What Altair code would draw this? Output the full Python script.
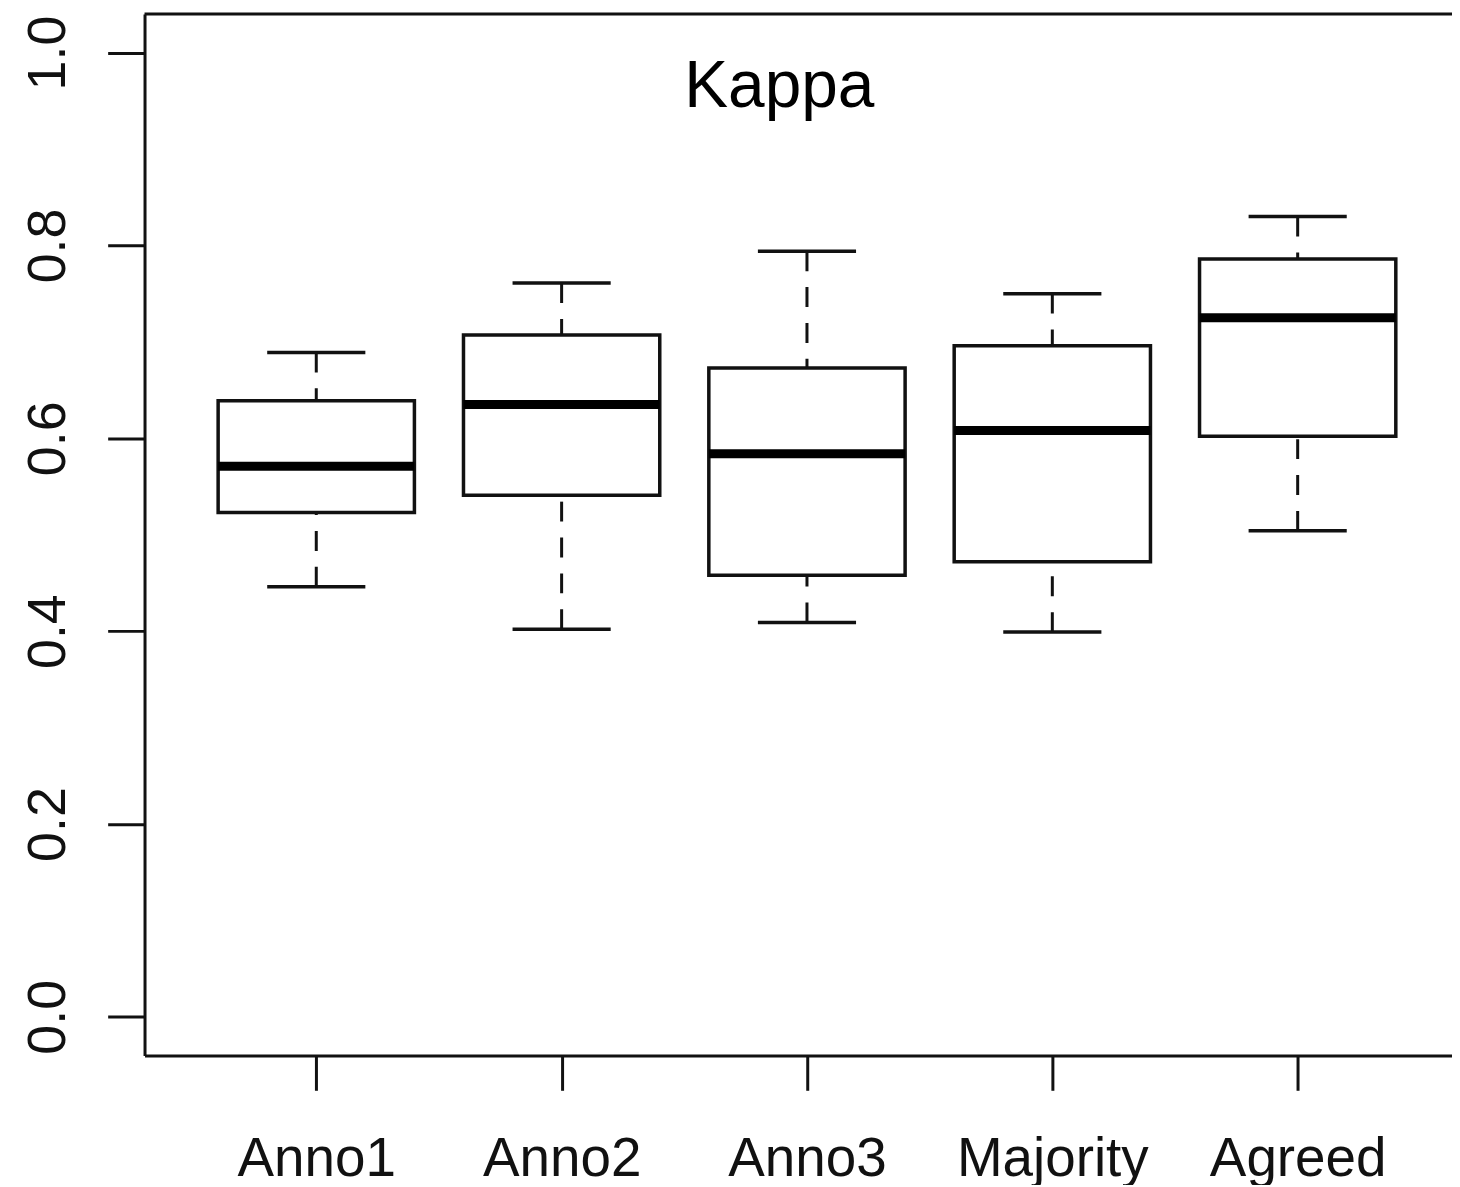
import altair as alt
import pandas as pd

# Data
categories = ["Anno1", "Anno2", "Anno3", "Majority", "Agreed"]
lower_whisker = [0.446, 0.402, 0.409, 0.399, 0.504]
q1 = [0.523, 0.541, 0.458, 0.472, 0.602]
median = [0.571, 0.635, 0.584, 0.608, 0.725]
q3 = [0.639, 0.707, 0.673, 0.696, 0.786]
upper_whisker = [0.689, 0.761, 0.794, 0.750, 0.830]
y_ticks = [0.0, 0.2, 0.4, 0.6, 0.8, 1.0]
title_text = "Kappa"

pos = list(range(1, len(categories) + 1))
df = pd.DataFrame({
    "cat": categories,
    "pos": pos,
    "lo": lower_whisker,
    "q1": q1,
    "med": median,
    "q3": q3,
    "hi": upper_whisker,
})
df["bl"] = df["pos"] - 0.4
df["br"] = df["pos"] + 0.4
df["cl"] = df["pos"] - 0.2
df["cr"] = df["pos"] + 0.2

W = 1312
H = 1045
PX_PER_UNIT = 246.2
x_domain = [0.3, 0.3 + W / PX_PER_UNIT]
y_domain = [-0.04, 1.04]

FONT = "Liberation Sans"
INK = "#111111"

label_list = "[" + ",".join("'" + c + "'" for c in categories) + "]"

xscale = alt.Scale(domain=x_domain, nice=False, zero=False)
yscale = alt.Scale(domain=y_domain, nice=False, zero=False)

x_axis = alt.Axis(
    values=pos, labelExpr=label_list + "[datum.value - 1]", title=None,
    tickSize=35, tickWidth=3, tickColor=INK, domainWidth=3, domainColor=INK,
    labelFontSize=55, labelFont=FONT, labelColor=INK, labelPadding=86,
    labelBaseline="alphabetic", labelAlign="center", labelFlush=False,
    labelOverlap=False, labelLimit=0, grid=False,
)
y_axis = alt.Axis(
    values=y_ticks, format=".1f", title=None,
    tickSize=37, tickWidth=3, tickColor=INK, domainWidth=3, domainColor=INK,
    labelFontSize=54, labelFont=FONT, labelColor=INK, labelAngle=270,
    labelAlign="center", labelBaseline="alphabetic", labelPadding=43,
    labelFlush=False, labelOverlap=False, labelLimit=0, grid=False,
)

base = alt.Chart(df)

whisk_up = base.mark_rule(color=INK, strokeWidth=3, strokeDash=[20, 16]).encode(
    x=alt.X("pos:Q", scale=xscale, axis=x_axis),
    y=alt.Y("hi:Q", scale=yscale, axis=y_axis),
    y2="q3:Q",
)
whisk_dn = base.mark_rule(color=INK, strokeWidth=3, strokeDash=[20, 16]).encode(
    x="pos:Q", y="lo:Q", y2="q1:Q",
)
cap_up = base.mark_rule(color=INK, strokeWidth=3.5).encode(
    x="cl:Q", x2="cr:Q", y="hi:Q",
)
cap_dn = base.mark_rule(color=INK, strokeWidth=3.5).encode(
    x="cl:Q", x2="cr:Q", y="lo:Q",
)
boxes = base.mark_rect(fill="white", stroke=INK, strokeWidth=3.5).encode(
    x="bl:Q", x2="br:Q", y="q1:Q", y2="q3:Q",
)
meds = base.mark_rule(color="#000000", strokeWidth=9, strokeCap="butt").encode(
    x="bl:Q", x2="br:Q", y="med:Q",
)

top_line = alt.Chart(pd.DataFrame({"k": [0]})).mark_rule(
    color=INK, strokeWidth=3
).encode(x=alt.value(0), x2=alt.value(W), y=alt.value(0))

title = alt.Chart(pd.DataFrame({"t": [title_text]})).mark_text(
    font=FONT, fontSize=66, color="#000000", align="center", baseline="alphabetic"
).encode(x=alt.value(637), y=alt.value(93), text="t:N")

chart = alt.layer(
    whisk_up, whisk_dn, cap_up, cap_dn, boxes, meds, top_line, title
).properties(
    width=W, height=H,
    autosize=alt.AutoSizeParams(type="none"),
    padding={"left": 137, "top": 4, "right": 0, "bottom": 128},
).configure_view(stroke=None).configure(background="white")

chart.save("out.html", embed_options={"renderer": "svg", "actions": False})
